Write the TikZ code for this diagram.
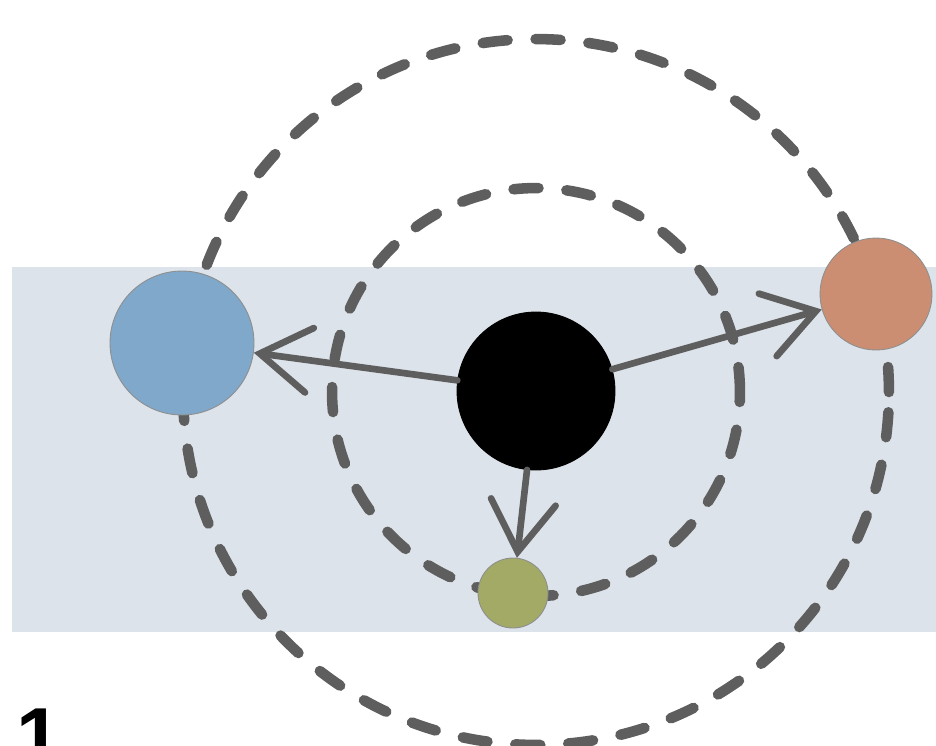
\documentclass[tikz,border=0pt]{standalone}
\usepackage{fontspec}
\setmainfont{Liberation Sans}
\usetikzlibrary{arrows.meta}
\definecolor{orbband}{HTML}{DDE3EA}
\definecolor{orbline}{HTML}{5E5E5E}
\definecolor{orbblue}{HTML}{80A8CA}
\definecolor{orbbrown}{HTML}{CB8E72}
\definecolor{orbgreen}{HTML}{A2AA66}
\tikzset{
  orbit/.style={draw=orbline, line width=6pt, line cap=round,
    dash pattern=on 0.5cm off 0.56cm},
  body/.style={circle, draw=orbline!70, line width=0.5pt, inner sep=0pt},
  pull/.style={-{Straight Barb[length=1cm, width=1.3cm, line cap=round]},
    draw=orbline, line width=3.8pt, line cap=round},
}

\begin{document}
\begin{tikzpicture}[x=0.02cm, y=-0.02cm]
\useasboundingbox (0,0) rectangle (936,745);

% Band behind the system.
\fill[orbband] (12,267) rectangle (936,632);

% Orbits.
\draw[orbit] (536,392) circle (7.06cm);
\draw[orbit] (536,392) circle (4.08cm);

% Bodies.
\node[body, fill=black, draw=black, minimum size=3.16cm] (sun) at (536,391) {};
\node[body, fill=orbblue, minimum size=2.88cm] (blue) at (182,343) {};
\node[body, fill=orbbrown, minimum size=2.24cm] (brown) at (876,294) {};
\node[body, fill=orbgreen, minimum size=1.4cm] (green) at (513,593) {};

% Pulls from the centre.
\draw[pull] (sun) -- (blue);
\draw[pull] (sun) -- (brown);
\draw[pull] (sun) -- (green);

% Panel number.
\node[anchor=south west, font=\bfseries\fontsize{46}{50}\selectfont,
      inner sep=0pt] (num) at (16,765) {1};

\end{tikzpicture}
\end{document}
